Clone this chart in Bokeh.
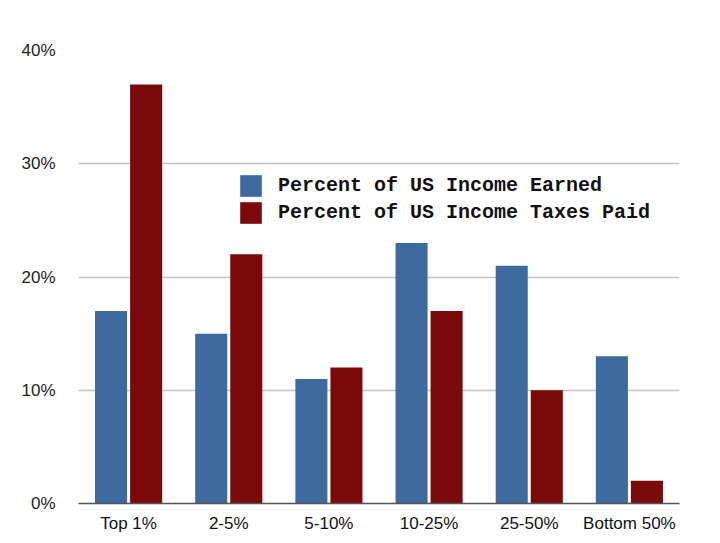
from bokeh.plotting import figure
from bokeh.models import FactorRange, FixedTicker, Legend, LegendItem, ColumnDataSource
from bokeh.transform import dodge
from bokeh.embed import file_html
from bokeh.resources import INLINE

categories = ["Top 1%", "2-5%", "5-10%", "10-25%", "25-50%", "Bottom 50%"]
income_earned = [17, 15, 11, 23, 21, 13]
taxes_paid = [37, 22, 12, 17, 10, 2]
y_ticks = [0, 10, 20, 30, 40]
y_tick_labels = ["0%", "10%", "20%", "30%", "40%"]
series_names = ["Percent of US Income Earned", "Percent of US Income Taxes Paid"]

BLUE = "#3d6a9f"
RED = "#7a0a0a"

src = ColumnDataSource(dict(cat=categories, earned=income_earned, taxes=taxes_paid))

p = figure(
    x_range=FactorRange(*categories, range_padding=0),
    y_range=(0, 40),
    width=720, height=543,
    output_backend="svg", toolbar_location=None,
    min_border_left=78, min_border_right=41,
    min_border_top=50, min_border_bottom=40,
)
p.outline_line_color = None
p.background_fill_color = "white"
p.border_fill_color = "white"

r1 = p.vbar(x=dodge("cat", -0.175, range=p.x_range), top="earned", width=0.32,
            source=src, fill_color=BLUE, line_color=None)
r2 = p.vbar(x=dodge("cat", 0.175, range=p.x_range), top="taxes", width=0.32,
            source=src, fill_color=RED, line_color=None)

# grids
p.xgrid.visible = False
p.ygrid.grid_line_color = "#c4c4c4"
p.ygrid.grid_line_width = 1.5

# y axis
p.yaxis.ticker = FixedTicker(ticks=y_ticks)
p.yaxis.major_label_overrides = dict(zip(y_ticks, y_tick_labels))
p.yaxis.axis_line_color = None
p.yaxis.major_tick_line_color = None
p.yaxis.minor_tick_line_color = None
p.yaxis.major_label_standoff = 17
p.yaxis.major_label_text_font = "Liberation Sans"
p.yaxis.major_label_text_font_size = "17px"
p.yaxis.major_label_text_color = "#222222"

# x axis
p.xaxis.axis_line_color = "#555555"
p.xaxis.axis_line_width = 1.5
p.xaxis.major_tick_line_color = None
p.xaxis.minor_tick_line_color = None
p.xaxis.major_tick_out = 0
p.xaxis.major_label_standoff = 10
p.xaxis.major_label_text_font = "Liberation Sans"
p.xaxis.major_label_text_font_size = "17px"
p.xaxis.major_label_text_color = "#111111"

legend = Legend(
    items=[LegendItem(label=series_names[0], renderers=[r1]),
           LegendItem(label=series_names[1], renderers=[r2])],
    location=(159, 277),
    glyph_width=27, glyph_height=27, label_height=27,
    label_standoff=14, spacing=0, padding=0, margin=0,
    border_line_color=None, background_fill_alpha=0,
    label_text_font="Liberation Mono", label_text_font_size="20px",
    label_text_font_style="bold", label_text_color="#111111",
)
p.add_layout(legend)

open("out.html", "w").write(file_html(p, INLINE))
